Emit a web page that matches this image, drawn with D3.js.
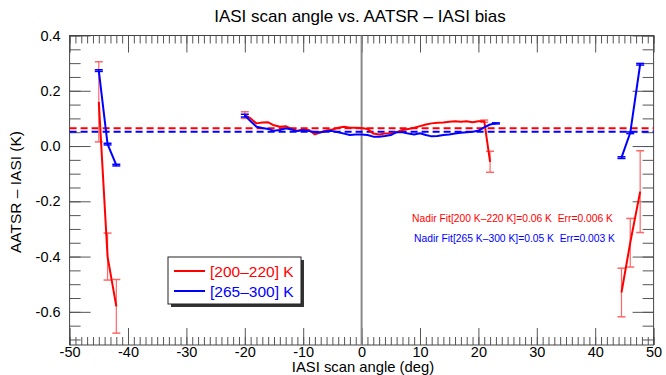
<!DOCTYPE html>
<html>
<head>
<meta charset="utf-8">
<script src="https://cdn.jsdelivr.net/npm/d3@7"></script>
<style>
  body { margin: 0; background: #fff; }
  svg { font-family: "Liberation Sans", Arial, sans-serif; }
</style>
</head>
<body>
<svg width="666" height="375"></svg>
<script>
// scan angles (deg) for the three groups of points
let angLeft = [-45, -43.5, -42];
let angRight = [44.5, 46, 47.7];
let angMidRed = d3.range(-20, 23);   // -20 .. 22
let angMidBlue = d3.range(-20, 24);  // -20 .. 23

// [200-220] K bias and error
let redLeft = [0.16, -0.40, -0.58];
let redLeftErr = [0.145, 0.085, 0.097];
let redMid = [0.112, 0.10, 0.082, 0.085, 0.086, 0.075, 0.07, 0.072, 0.062, 0.055,
  0.06, 0.058, 0.042, 0.05, 0.056, 0.06, 0.066, 0.07, 0.066, 0.066,
  0.065, 0.062, 0.045, 0.042, 0.045, 0.046, 0.05, 0.058, 0.062, 0.066,
  0.072, 0.078, 0.082, 0.084, 0.085, 0.088, 0.09, 0.088, 0.09, 0.086,
  0.09, 0.09, -0.057];
let redMidErr = [0.012, 0, 0, 0, 0, 0, 0, 0, 0, 0, 0, 0, 0, 0, 0, 0, 0, 0, 0, 0, 0,
  0, 0, 0, 0, 0, 0, 0, 0, 0, 0, 0, 0, 0, 0, 0, 0, 0, 0, 0, 0, 0.004, 0.038];
let redRight = [-0.53, -0.35, -0.165];
let redRightErr = [0.088, 0.088, 0.148];

// [265-300] K bias and error
let blueLeft = [0.273, 0.007, -0.069];
let blueLeftErr = [0.003, 0.003, 0.003];
let blueMid = [0.11, 0.09, 0.07, 0.065, 0.062, 0.055, 0.058, 0.064, 0.06, 0.054,
  0.058, 0.054, 0.05, 0.05, 0.054, 0.054, 0.05, 0.045, 0.04, 0.042,
  0.042, 0.04, 0.034, 0.034, 0.036, 0.04, 0.05, 0.05, 0.045, 0.042,
  0.046, 0.04, 0.035, 0.036, 0.04, 0.042, 0.045, 0.048, 0.05, 0.052,
  0.055, 0.068, 0.078, 0.082];
let blueMidErr = [0.005, 0, 0, 0, 0, 0, 0, 0, 0, 0, 0, 0, 0, 0, 0, 0, 0, 0, 0, 0, 0,
  0, 0, 0, 0, 0, 0, 0, 0, 0, 0, 0, 0, 0, 0, 0, 0, 0, 0, 0, 0, 0, 0, 0.002];
let blueRight = [-0.042, 0.048, 0.296];
let blueRightErr = [0.003, 0.003, 0.003];

// nadir fits
let fitRed = 0.064, fitBlue = 0.052;
let fitTexts = ["Nadir Fit[200 K\u2013220 K]=0.06 K  Err=0.006 K",
  "Nadir Fit[265 K\u2013300 K]=0.05 K  Err=0.003 K"];
let legendLabels = ["[200\u2013220] K", "[265\u2013300] K"];

let xTicks = d3.range(-50, 51, 10);
let yTicks = [-0.6, -0.4, -0.2, 0.0, 0.2, 0.4];

let pLeft = 69.6, pRight = 653.6, pTop = 35.5, pBottom = 345;
let svg = d3.select("svg");

let xScale = d3.scaleLinear().domain([-50, 50]).range([pLeft, pRight]);
let yScale = d3.scaleLinear().domain([-0.72, 0.4]).range([pBottom, pTop]);

let red = "#ff0000", blue = "#0000ff";

// title and labels
svg.append("text")
  .attr("x", 360).attr("y", 22)
  .attr("text-anchor", "middle")
  .attr("font-size", 17)
  .text("IASI scan angle vs. AATSR \u2013 IASI bias");

svg.append("text")
  .attr("x", 363).attr("y", 372)
  .attr("text-anchor", "middle")
  .attr("font-size", 14.8)
  .text("IASI scan angle (deg)");

svg.append("text")
  .attr("transform", "translate(21, 192) rotate(-90)")
  .attr("text-anchor", "middle")
  .attr("font-size", 15.5)
  .text("AATSR \u2013 IASI (K)");

// axes
let tickColor = "#555";
let styleAxis = g => {
  g.select(".domain").remove();
  g.selectAll("line").attr("stroke", tickColor);
  g.selectAll("text").attr("font-size", 14.5).attr("fill", "#000")
    .attr("font-family", "Liberation Sans, Arial, sans-serif");
};

let minorX = d3.range(-50, 51, 1);
let minorY = d3.range(-0.7, 0.41, 0.05).map(d => +d.toFixed(2));

svg.append("g").attr("transform", `translate(0,${pBottom})`)
  .call(d3.axisBottom(xScale).tickValues(minorX).tickSize(-8).tickFormat(""))
  .call(styleAxis);
svg.append("g").attr("transform", `translate(0,${pBottom})`)
  .call(d3.axisBottom(xScale).tickValues(xTicks).tickSize(-17)
    .tickFormat(d => String(d)))
  .call(styleAxis)
  .call(g => g.selectAll("text").attr("y", 2).attr("dy", "0.71em"));
svg.append("g").attr("transform", `translate(0,${pTop})`)
  .call(d3.axisTop(xScale).tickValues(minorX).tickSize(-8).tickFormat(""))
  .call(styleAxis);
svg.append("g").attr("transform", `translate(0,${pTop})`)
  .call(d3.axisTop(xScale).tickValues(xTicks).tickSize(-17).tickFormat(""))
  .call(styleAxis);

svg.append("g").attr("transform", `translate(${pLeft},0)`)
  .call(d3.axisLeft(yScale).tickValues(minorY).tickSize(-11).tickFormat(""))
  .call(styleAxis);
svg.append("g").attr("transform", `translate(${pLeft},0)`)
  .call(d3.axisLeft(yScale).tickValues(yTicks).tickSize(-21)
    .tickFormat(d => d.toFixed(1)))
  .call(styleAxis)
  .call(g => g.selectAll("text").attr("x", -9));
svg.append("g").attr("transform", `translate(${pRight},0)`)
  .call(d3.axisRight(yScale).tickValues(minorY).tickSize(-11).tickFormat(""))
  .call(styleAxis);
svg.append("g").attr("transform", `translate(${pRight},0)`)
  .call(d3.axisRight(yScale).tickValues(yTicks).tickSize(-21).tickFormat(""))
  .call(styleAxis);

// frame
svg.append("rect")
  .attr("x", pLeft).attr("y", pTop)
  .attr("width", pRight - pLeft).attr("height", pBottom - pTop)
  .attr("fill", "none").attr("stroke", "#444").attr("stroke-width", 1);

// zero line
svg.append("line")
  .attr("x1", xScale(0)).attr("x2", xScale(0))
  .attr("y1", pTop).attr("y2", pBottom)
  .attr("stroke", "#888").attr("stroke-width", 2);

// nadir fit dashed lines
[[fitRed, red], [fitBlue, blue]].forEach(([v, c]) => {
  svg.append("line")
    .attr("x1", pLeft).attr("x2", pRight)
    .attr("y1", yScale(v)).attr("y2", yScale(v))
    .attr("stroke", c).attr("stroke-width", 2)
    .attr("stroke-dasharray", "7,4");
});

// series
let line = d3.line().x(d => xScale(d[0])).y(d => yScale(d[1]));

let drawSeries = (angles, vals, errs, color, errColor) => {
  let pts = angles.map((a, i) => [a, vals[i], errs[i]]);
  let g = svg.append("g");
  pts.filter(p => p[2] > 0).forEach(p => {
    let x = xScale(p[0]), y1 = yScale(p[1] + p[2]), y2 = yScale(p[1] - p[2]);
    g.append("line").attr("x1", x).attr("x2", x).attr("y1", y1).attr("y2", y2)
      .attr("stroke", errColor).attr("stroke-width", 1.2);
    [y1, y2].forEach(y => g.append("line")
      .attr("x1", x - 4).attr("x2", x + 4).attr("y1", y).attr("y2", y)
      .attr("stroke", errColor).attr("stroke-width", 1.5));
  });
  g.append("path").datum(pts)
    .attr("d", line)
    .attr("fill", "none")
    .attr("stroke", color)
    .attr("stroke-width", 2)
    .attr("stroke-linejoin", "round");
};

let redErr = "#ff6666", blueErr = "#0000ff";
drawSeries(angLeft, redLeft, redLeftErr, red, redErr);
drawSeries(angMidRed, redMid, redMidErr, red, redErr);
drawSeries(angRight, redRight, redRightErr, red, redErr);
drawSeries(angLeft, blueLeft, blueLeftErr, blue, blueErr);
drawSeries(angMidBlue, blueMid, blueMidErr, blue, blueErr);
drawSeries(angRight, blueRight, blueRightErr, blue, blueErr);

// annotation
svg.append("text").attr("x", 412).attr("y", 222)
  .attr("font-size", 10.3).attr("fill", red)
  .style("white-space", "pre")
  .text(fitTexts[0]);
svg.append("text").attr("x", 414).attr("y", 242)
  .attr("font-size", 10.3).attr("fill", blue)
  .style("white-space", "pre")
  .text(fitTexts[1]);

// legend
let lg = svg.append("g").attr("transform", "translate(168,257)");
lg.append("rect").attr("x", 3).attr("y", 3).attr("width", 133).attr("height", 47)
  .attr("fill", "#333");
lg.append("rect").attr("x", 0).attr("y", 0).attr("width", 133).attr("height", 47)
  .attr("fill", "#fff").attr("stroke", "#222").attr("stroke-width", 1);
[[red, legendLabels[0]], [blue, legendLabels[1]]].forEach(([c, t], i) => {
  let y = 14 + i * 20;
  lg.append("line").attr("x1", 6).attr("x2", 37).attr("y1", y).attr("y2", y)
    .attr("stroke", c).attr("stroke-width", 2);
  lg.append("text").attr("x", 42).attr("y", y + 5.5)
    .attr("font-size", 15.5).attr("fill", c).text(t);
});
</script>
</body>
</html>
